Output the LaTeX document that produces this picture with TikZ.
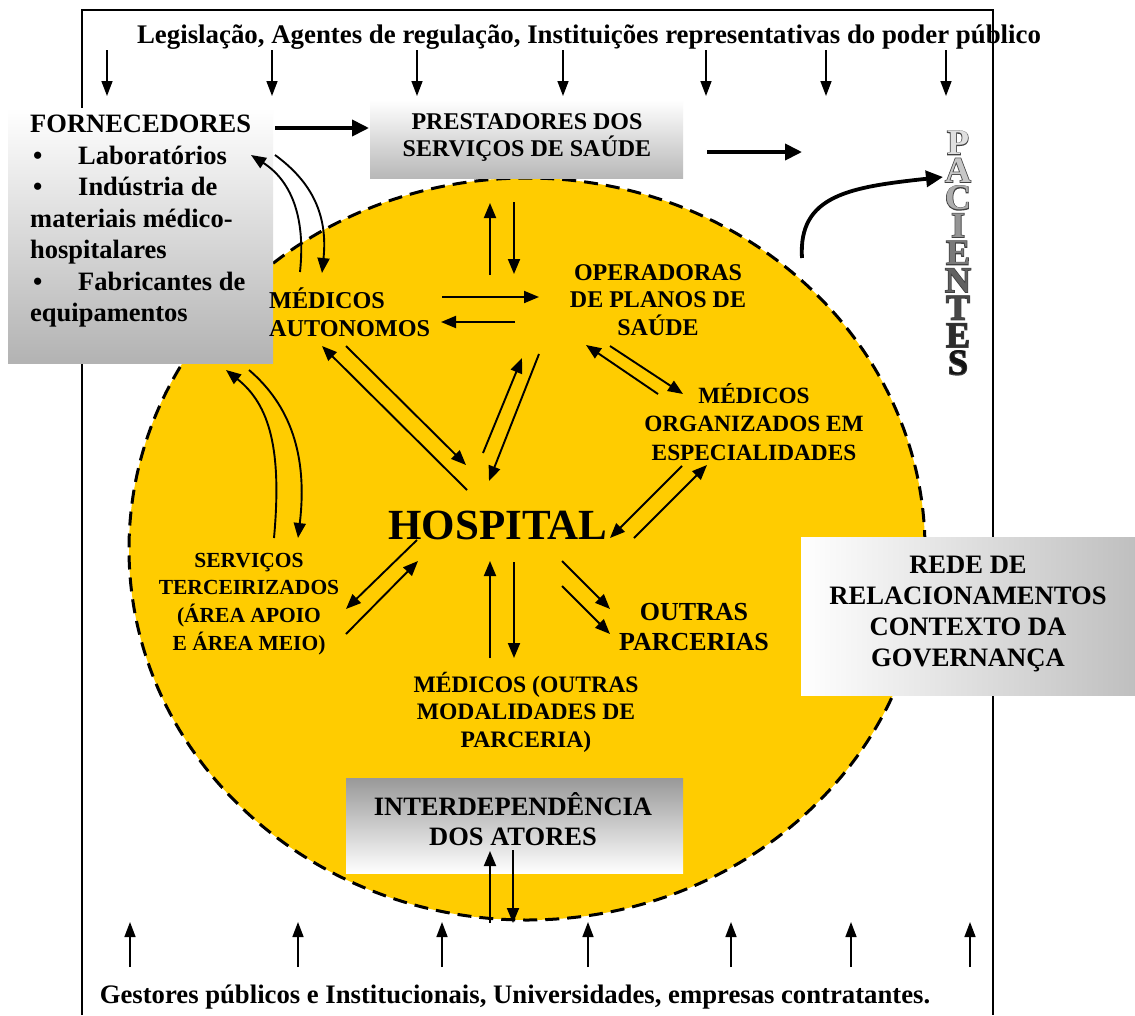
\documentclass[tikz,border=0pt]{standalone}
\usepackage{fontspec}
\setmainfont{Liberation Serif}
\newfontfamily\edgefont{Liberation Serif Bold}[FakeBold=4]
\usetikzlibrary{arrows.meta}
\definecolor{sunyellow}{HTML}{FFCC00}
\begin{document}
\begin{tikzpicture}[x=1pt,y=-1pt,
  lbl/.style={font=\bfseries\fontsize{23.5}{27.5}\selectfont, align=center, inner sep=0pt},
  biglbl/.style={font=\bfseries\fontsize{26.8}{30.5}\selectfont, align=center, inner sep=0pt},
  arr/.style={line width=1.9pt, -{Triangle[length=15pt,width=12pt]}},
  tick/.style={line width=1.5pt, -{Triangle[length=15pt,width=11pt]}},
  bigarr/.style={line width=3.8pt, -{Triangle[length=17pt,width=16pt]}},
  gbox/.style={anchor=north west, inner sep=0pt, draw=none},
  rim/.style={line width=3pt, dash pattern=on 14pt off 8pt}
]
\useasboundingbox (0,0) rectangle (1135,1015);
\fill[white] (0,0) rectangle (1135,1015);

% outer frame
\coordinate (fbl) at (82,1015); \coordinate (ftl) at (82,10);
\coordinate (ftr) at (993,10);  \coordinate (fbr) at (993,1015);
\draw[line width=1.6pt] (fbl) -- (ftl) -- (ftr) -- (fbr);

% regulators on top, pressing down
\node[biglbl, font=\bfseries\fontsize{26.85}{30.5}\selectfont] (reg) at (589,37) {Legislação, Agentes de regulação, Instituições representativas do poder público};
\foreach \x [count=\i] in {107,272,417,563,706,826,946} {
  \coordinate (rs\i) at (\x,50); \coordinate (re\i) at (\x,96);
  \draw[tick] (rs\i) -- (re\i);
}

% stakeholders at the bottom, pushing up
\node[biglbl, font=\bfseries\fontsize{26.7}{30.5}\selectfont] (ges) at (515,997) {Gestores públicos e Institucionais, Universidades, empresas contratantes.};
\foreach \x [count=\i] in {130,298,442,588,731,851,970} {
  \coordinate (gs\i) at (\x,967); \coordinate (ge\i) at (\x,922);
  \draw[tick] (gs\i) -- (ge\i);
}

% the network of actors
\draw[rim, fill=sunyellow] (527,549) ellipse [x radius=398, y radius=371];

% shaded boxes
\node[gbox, minimum width=265pt, minimum height=255pt, top color=white, bottom color=black!30] (fornbox) at (8,108) {};
\node[gbox, minimum width=313pt, minimum height=78pt, top color=white, bottom color=black!28] (prestbox) at (370,100) {};
\node[gbox, minimum width=337pt, minimum height=95pt, top color=black!40, bottom color=white] (interbox) at (346,778) {};
\node[gbox, minimum width=334pt, minimum height=158pt, left color=white, right color=black!25] (redebox) at (801,537) {};

% texts
\node[anchor=north west, align=left, inner sep=0pt, font=\bfseries\fontsize{26.5}{31.5}\selectfont] (forn) at (30,115)
  {FORNECEDORES\\ \makebox[48pt][l]{\hspace{3pt}•}Laboratórios\\ \makebox[48pt][l]{\hspace{3pt}•}Indústria de\\ materiais médico-\\ hospitalares\\ \makebox[48pt][l]{\hspace{3pt}•}Fabricantes de\\ equipamentos};
\node[lbl, font=\bfseries\fontsize{24}{27}\selectfont] (prest) at (527,138) {PRESTADORES DOS\\ SERVIÇOS DE SAÚDE};
\node[lbl, font=\bfseries\fontsize{24}{27.5}\selectfont] (oper) at (658,300) {OPERADORAS\\ DE PLANOS DE\\ SAÚDE};
\node[lbl, font=\bfseries\fontsize{24.2}{28}\selectfont, anchor=west, align=left] (auto) at (269,312) {MÉDICOS\\ AUTONOMOS};
\node[lbl, font=\bfseries\fontsize{23.3}{28.5}\selectfont] (espec) at (754,422) {MÉDICOS\\ ORGANIZADOS EM\\ ESPECIALIDADES};
\node[lbl, font=\bfseries\fontsize{43}{48}\selectfont] (hosp) at (498,525) {HOSPITAL};
\node[lbl, font=\bfseries\fontsize{21.5}{27.8}\selectfont] (terc) at (249,604) {SERVIÇOS\\ TERCEIRIZADOS\\ (ÁREA APOIO\\ E ÁREA MEIO)};
\node[lbl, font=\bfseries\fontsize{26}{30}\selectfont] (outras) at (694,627) {OUTRAS\\ PARCERIAS};
\node[lbl, font=\bfseries\fontsize{23.6}{27.5}\selectfont] (modal) at (526,712) {MÉDICOS (OUTRAS\\ MODALIDADES DE\\ PARCERIA)};
\node[biglbl, font=\bfseries\fontsize{26.5}{30}\selectfont] (inter) at (513,819) {INTERDEPENDÊNCIA\\ DOS ATORES};
\node[biglbl, font=\bfseries\fontsize{26.6}{31}\selectfont] (rede) at (968,614) {REDE DE\\ RELACIONAMENTOS\\ CONTEXTO DA\\ GOVERNANÇA};

% patients: outlined letters, stacked, fading from grey to black
\node[inner sep=0pt, align=center, text=black!75, font=\edgefont\fontsize{36}{27.5}\selectfont] (pacedge) at (958,253)
  {P\\A\\C\\I\\E\\N\\T\\E\\S};
\node[inner sep=0pt, align=center, font=\bfseries\fontsize{36}{27.5}\selectfont] (pac) at (958,253)
  {\textcolor{black!12}{P}\\\textcolor{black!22}{A}\\\textcolor{black!32}{C}\\\textcolor{black!42}{I}\\\textcolor{black!52}{E}\\\textcolor{black!62}{N}\\\textcolor{black!72}{T}\\\textcolor{black!82}{E}\\\textcolor{black!92}{S}};

% main flows
\coordinate (f1) at (275,128); \coordinate (f2) at (369,128);
\draw[bigarr] (f1) -- (f2);
\coordinate (p1) at (707,152); \coordinate (p2) at (802,152);
\draw[bigarr] (p1) -- (p2);
\coordinate (c1) at (802,258); \coordinate (c2) at (943,177);
\draw[bigarr] (c1) .. controls (798,195) and (850,187) .. (c2);

% suppliers <-> autonomous physicians
\coordinate (a1) at (300,272); \coordinate (a2) at (251,155);
\draw[arr] (a1) .. controls (306,215) and (290,180) .. (a2);
\coordinate (a3) at (275,155); \coordinate (a4) at (322,273);
\draw[arr] (a3) .. controls (312,182) and (328,215) .. (a4);

% suppliers <-> outsourced services
\coordinate (s1) at (274,538); \coordinate (s2) at (226,370);
\draw[arr] (s1) .. controls (282,450) and (270,405) .. (s2);
\coordinate (s3) at (249,370); \coordinate (s4) at (298,538);
\draw[arr] (s3) .. controls (290,405) and (308,455) .. (s4);

% providers <-> health plans
\coordinate (v1) at (490,275); \coordinate (v2) at (490,203);
\draw[arr] (v1) -- (v2);
\coordinate (v3) at (514,202); \coordinate (v4) at (514,274);
\draw[arr] (v3) -- (v4);

% autonomous physicians <-> health plans
\coordinate (h1) at (442,297); \coordinate (h2) at (539,297);
\draw[arr] (h1) -- (h2);
\coordinate (h3) at (515,322); \coordinate (h4) at (441,322);
\draw[arr] (h3) -- (h4);

% autonomous physicians <-> hospital
\coordinate (d1) at (467,490); \coordinate (d2) at (322,346);
\draw[arr] (d1) -- (d2);
\coordinate (d3) at (346,346); \coordinate (d4) at (466,465);
\draw[arr] (d3) -- (d4);

% health plans <-> hospital
\coordinate (o1) at (483,453); \coordinate (o2) at (522,358);
\draw[arr] (o1) -- (o2);
\coordinate (o3) at (539,354); \coordinate (o4) at (489,481);
\draw[arr] (o3) -- (o4);

% health plans <-> specialists
\coordinate (e1) at (658,394); \coordinate (e2) at (586,345);
\draw[arr] (e1) -- (e2);
\coordinate (e3) at (610,346); \coordinate (e4) at (683,394);
\draw[arr] (e3) -- (e4);

% specialists <-> hospital
\coordinate (k1) at (682,466); \coordinate (k2) at (610,538);
\draw[arr] (k1) -- (k2);
\coordinate (k3) at (634,538); \coordinate (k4) at (707,465);
\draw[arr] (k3) -- (k4);

% outsourced services <-> hospital
\coordinate (t1) at (417,540); \coordinate (t2) at (346,609);
\draw[arr] (t1) -- (t2);
\coordinate (t3) at (346,634); \coordinate (t4) at (418,561);
\draw[arr] (t3) -- (t4);

% hospital <-> other physicians
\coordinate (m1) at (490,658); \coordinate (m2) at (490,561);
\draw[arr] (m1) -- (m2);
\coordinate (m3) at (514,562); \coordinate (m4) at (514,658);
\draw[arr] (m3) -- (m4);

% hospital -> other partnerships
\coordinate (q1) at (562,561); \coordinate (q2) at (610,609);
\draw[arr] (q1) -- (q2);
\coordinate (q3) at (562,586); \coordinate (q4) at (610,634);
\draw[arr] (q3) -- (q4);

% interdependence <-> outside
\coordinate (i1) at (490,923); \coordinate (i2) at (490,851);
\draw[arr] (i1) -- (i2);
\coordinate (i3) at (513,850); \coordinate (i4) at (513,923);
\draw[arr] (i3) -- (i4);
\end{tikzpicture}
\end{document}
